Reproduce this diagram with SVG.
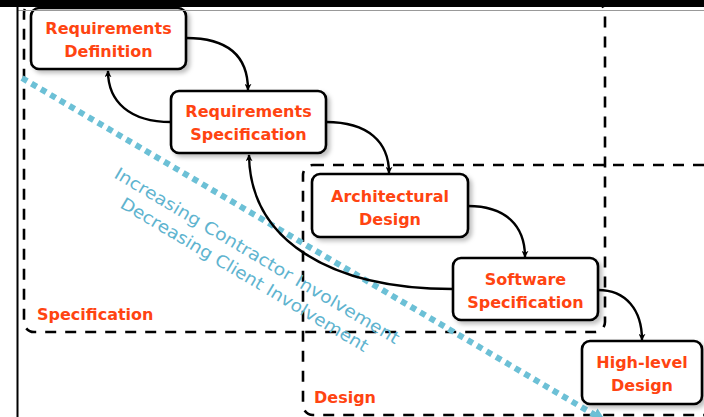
<svg xmlns="http://www.w3.org/2000/svg" width="704" height="417" viewBox="0 0 704 417">
<defs>
<style>
.box{fill:none;stroke:#000;stroke-width:2.6;stroke-dasharray:11 9}
.node rect{fill:#fff;stroke:#000;stroke-width:2.6}
.nt{font-family:"DejaVu Sans",sans-serif;font-weight:bold;font-size:16px;fill:#ff4411;text-anchor:middle}
.lbl{font-family:"DejaVu Sans",sans-serif;font-weight:bold;font-size:16px;fill:#ff4411}
.bt{font-family:"DejaVu Sans",sans-serif;font-size:17px;fill:#5fb4cf}
.conn path{fill:none;stroke:#000;stroke-width:2.4}
</style>
<filter id="sh" x="-10%" y="-10%" width="130%" height="140%">
<feDropShadow dx="3" dy="3" stdDeviation="2" flood-color="#000" flood-opacity="0.25"/>
</filter>
<marker id="ah" viewBox="0 0 10 10" refX="9" refY="5" markerWidth="7" markerHeight="7" orient="auto" markerUnits="userSpaceOnUse">
<path d="M0,0 L10,5 L0,10 L3,5 z" fill="#000"/>
</marker>
<marker id="bh" viewBox="0 0 10 10" refX="5" refY="5" markerWidth="14" markerHeight="14" orient="auto" markerUnits="userSpaceOnUse">
<path d="M0,0 L10,5 L0,10 z" fill="#6cc0d6"/>
</marker>
</defs>
<rect width="704" height="417" fill="#fff"/>

<g id="phases">
<rect class="box" x="24" y="3" width="581" height="329" rx="10"/>
<rect class="box" x="303" y="165" width="430" height="250" rx="10"/>
<text class="lbl" x="37" y="320">Specification</text>
<text class="lbl" x="314" y="403">Design</text>
</g>

<g id="trend">
<line x1="22" y1="78" x2="600" y2="418" stroke="#6cc0d6" stroke-width="6" stroke-dasharray="6 5" marker-end="url(#bh)"/>
<text class="bt" transform="translate(113,177) rotate(30.7)" textLength="328" lengthAdjust="spacingAndGlyphs">Increasing Contractor Involvement</text>
<text class="bt" transform="translate(119,207) rotate(30.7)" textLength="285" lengthAdjust="spacingAndGlyphs">Decreasing Client Involvement</text>
</g>

<g id="connectors" class="conn">
<path d="M186,38 C230,38 248,58 248,90" marker-end="url(#ah)"/>
<path d="M171,122 C130,122 108,102 108,71" marker-end="url(#ah)"/>
<path d="M326,122 C368,122 389,142 389,173" marker-end="url(#ah)"/>
<path d="M453,289 C330,289 250,240 249,155" marker-end="url(#ah)"/>
<path d="M468,206 C506,206 525,226 525,257" marker-end="url(#ah)"/>
<path d="M598,290 C626,290 642,310 642,340" marker-end="url(#ah)"/>
</g>

<g id="req-def" class="node">
<rect x="31" y="8" width="155" height="61" rx="8" filter="url(#sh)"/>
<text class="nt" x="108.5" y="34">Requirements</text>
<text class="nt" x="108.5" y="57">Definition</text>
</g>
<g id="req-spec" class="node">
<rect x="171" y="91" width="155" height="62" rx="8" filter="url(#sh)"/>
<text class="nt" x="248.5" y="117">Requirements</text>
<text class="nt" x="248.5" y="140">Specification</text>
</g>
<g id="arch-design" class="node">
<rect x="312" y="174" width="156" height="63" rx="8" filter="url(#sh)"/>
<text class="nt" x="390" y="202">Architectural</text>
<text class="nt" x="390" y="225">Design</text>
</g>
<g id="sw-spec" class="node">
<rect x="453" y="258" width="145" height="62" rx="8" filter="url(#sh)"/>
<text class="nt" x="525.5" y="285">Software</text>
<text class="nt" x="525.5" y="308">Specification</text>
</g>
<g id="hl-design" class="node">
<rect x="582" y="341" width="120" height="63" rx="8" filter="url(#sh)"/>
<text class="nt" x="642" y="368">High-level</text>
<text class="nt" x="642" y="391">Design</text>
</g>

<g id="frame">
<rect x="0" y="0" width="704" height="7" fill="#000"/>
<line x1="17" y1="10.5" x2="704" y2="10.5" stroke="#999" stroke-width="1"/>
<line x1="17.5" y1="7" x2="17.5" y2="417" stroke="#000" stroke-width="2"/>
</g>
</svg>
